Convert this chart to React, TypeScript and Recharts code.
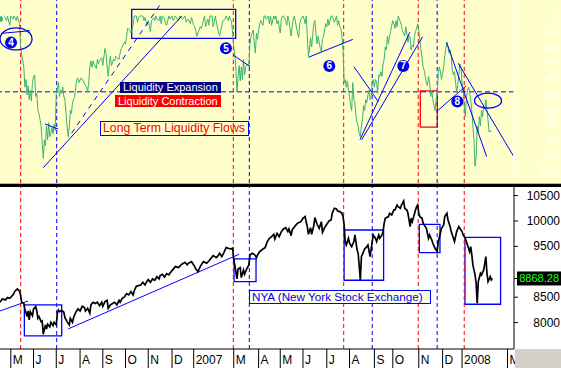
import React from 'react';
import {
  ComposedChart,
  Line,
  XAxis,
  YAxis,
  ReferenceLine,
  ReferenceArea,
  ReferenceDot,
} from 'recharts';

const FONT = 'Arial, "Liberation Sans", Helvetica, sans-serif';

// x values are trading sessions counted from mid-April 2006
const oscDays = [
  0, 2, 4, 6, 7, 9, 10, 12, 13, 15,
  16, 18, 19, 20, 21, 22, 23, 24, 25, 26,
  27, 28, 29, 30, 31, 32, 33, 34, 35, 36,
  38, 39, 40, 41, 42, 43, 44, 45, 46, 47,
  48, 49, 50, 51, 52, 54, 55, 56, 57, 58,
  59, 60, 62, 63, 64, 65, 66, 67, 68, 69,
  70, 71, 72, 73, 75, 77, 79, 80, 81, 82,
  83, 84, 85, 86, 87, 89, 90, 91, 92, 94,
  95, 97, 98, 99, 100, 101, 102, 103, 105, 106,
  107, 108, 110, 111, 112, 113, 115, 116, 117, 118,
  120, 121, 122, 123, 124, 126, 127, 128, 129, 131,
  132, 133, 134, 136, 137, 138, 139, 140, 142, 143,
  144, 145, 147, 148, 149, 150, 152, 153, 154, 155,
  156,
  157, 159, 160, 162, 165, 166, 169, 171, 172, 174,
  176, 177, 179, 180, 182, 183, 185, 186, 188, 189,
  190, 192, 193, 194, 196, 197, 199, 200, 202, 203,
  205, 206, 208, 209, 211, 212, 213, 214, 215, 216,
  217, 218, 219, 220, 221, 222, 223, 224, 225, 226,
  227, 229, 230, 231, 232, 233, 234, 235, 236, 237,
  238, 239, 240, 241, 243, 244, 245, 246, 248, 249,
  250, 251, 253, 254, 255, 256, 257, 259, 260, 261,
  262, 264, 265, 266, 267, 269, 270, 271, 272, 275,
  276, 277, 278, 280, 281, 282, 283, 285, 286, 287,
  288, 290, 291, 292, 293, 294, 296, 297, 298, 299,
  301, 302, 303, 304, 306, 307, 308, 309, 311, 312,
  313,
  314, 315, 316, 317, 318, 319, 320, 321, 322, 323,
  324, 325, 326, 327, 328, 329, 330, 331, 332, 333,
  334, 335, 336, 337, 338, 339, 340, 341, 342, 343,
  344, 345, 346, 347, 348, 349, 350, 351, 352, 353,
  354, 355, 356, 357, 358, 359, 360, 361, 362, 363,
  364, 365, 366, 367, 368, 370, 371, 372, 373, 374,
  375, 376, 377, 378, 379, 380, 381, 382, 383, 384,
  385, 386, 387, 388, 389, 390, 391, 392, 393, 394,
  395, 396, 397, 398, 399, 400, 401, 402, 403, 404,
  405, 406, 407, 408, 409, 410, 411, 412, 413, 414,
  415, 416, 417, 418, 419, 420, 421, 422, 423, 424,
  425, 426, 427, 428, 429, 430, 431, 432, 433, 434,
  435, 436, 437, 438, 439, 440, 441, 442, 443, 444,
  445, 446, 447, 448, 449, 450, 451, 452, 453, 454,
];

const oscValues = [
  -2, 0, 0, -3, 0, -6, 0, -2, 0, -3,
  0, -5, -19, -25, -29, -33, -46, -41, -51, -45,
  -54, -48, -55, -43, -39, -38, -52, -50, -61, -63,
  -71, -82, -92, -80, -84, -71, -80, -69, -78, -76,
  -72, -76, -70, -74, -50, -43, -52, -48, -50, -46,
  -52, -54, -71, -78, -72, -61, -63, -56, -54, -52,
  -46, -41, -40, -43, -40, -42, -45, -46, -49, -43,
  -33, -29, -33, -29, -31, -34, -28, -31, -29, -27,
  -32, -21, -24, -33, -39, -31, -26, -32, -28, -29,
  -26, -27, -28, -24, -21, -20, -17, -18, -13, -8,
  -9, -11, -9, -6, 0, 0, -4, -1, 0, 0,
  0, -3, -1, -6, -3, -6, -10, -3, -1, -3,
  0, -2, -3, 0, -5, 0, -2, -5, -6, -3,
  0,
  -2, 0, -3, 0, -3, 0, -2, 0, -4, -2,
  -5, -1, -6, -7, -13, -11, -7, -8, -3, 0,
  -7, -2, -6, 0, 0, -7, 0, -4, -11, -13,
  -6, -3, -2, 0, -3, 0, -2, -4, -11, -20,
  -25, -35, -49, -39, -32, -42, -33, -41, -28, -38,
  -33, -31, -32, -18, -13, -11, -9, -18, -24, -11,
  -15, -9, -5, -3, -6, 0, 0, -2, 0, -5,
  0, -6, 0, -2, 0, -5, -3, -11, -2, 0,
  0, -3, -6, 0, -3, -13, -7, -2, 0, -11,
  -14, -5, -2, 0, -2, -5, 0, -26, -22, -14,
  -20, -5, -3, -11, -18, -13, -21, -23, -15, -13,
  -5, -7, -2, -6, 0, 0, -2, -4, 0, -6,
  -3,
  -7, -8, -13, -22, -43, -41, -46, -42, -48, -52,
  -58, -61, -43, -54, -56, -65, -69, -71, -76, -78,
  -71, -67, -58, -61, -54, -56, -51, -48, -54, -52,
  -43, -41, -46, -41, -43, -50, -38, -39, -36, -39,
  -31, -28, -20, -22, -13, -18, -13, -10, -6, -3,
  -5, -8, -3, -7, 0, -4, -6, -10, -11, -13,
  -7, -11, -17, -13, -14, -22, -19, -20, -13, -10,
  -8, -5, -9, -15, -22, -27, -33, -35, -39, -43,
  -45, -39, -43, -52, -48, -54, -58, -61, -54, -51,
  -37, -33, -36, -41, -37, -33, -26, -21, -17, -20,
  -24, -22, -26, -35, -38, -36, -43, -49, -45, -38,
  -31, -33, -43, -48, -58, -65, -54, -48, -46, -49,
  -54, -61, -71, -80, -97, -91, -71, -76, -65, -71,
  -61, -65, -58, -60, -54, -61, -67, -75, -74, -75,
];

const nyaDays = [
  0, 2, 5, 7, 9, 12, 14, 16, 18, 19,
  20, 22, 23, 25, 26, 27, 28, 30, 31, 33,
  34, 35, 36, 38, 39, 40, 42, 43, 44, 46,
  47, 49, 50, 52, 53, 54, 55, 57, 59, 60,
  62, 64, 65, 67, 68, 70, 72, 74, 76, 78,
  79, 81, 83, 84, 86, 88, 90, 92, 94, 95,
  97, 99, 100, 102, 104, 106, 108, 110, 111, 113,
  115, 117, 119, 121, 123, 124, 126, 128, 130, 132,
  134, 136, 137, 139, 141, 143, 145, 147, 148, 150,
  152, 154, 156,
  157, 162, 165, 168, 171, 173, 174, 177, 179, 181,
  183, 185, 188, 191, 193, 197, 200, 202, 203, 205,
  207, 209, 213, 215, 216, 217, 219, 220, 222, 223,
  225, 226, 228, 230, 231, 233, 235, 237, 238, 240,
  243, 245, 247, 249, 251, 253, 254, 256, 258, 260,
  262, 264, 266, 267, 269, 270, 273, 275, 278, 280,
  282, 283, 284, 285, 287, 288, 290, 291, 293, 295,
  297, 298, 300, 302, 304, 306, 307, 309, 311, 312,
  314, 316, 317, 318, 319, 320, 322, 323, 325, 327,
  328, 330, 331, 333, 334, 336, 337, 339, 340, 342,
  344, 345, 347, 348, 350, 351, 353, 354, 355, 356,
  359, 360, 362, 364, 365, 367, 368, 370, 371, 373,
  374, 376, 377, 379, 380, 381, 384, 385, 386, 387,
  388, 390, 391, 393, 394, 396, 397, 399, 400, 402,
  404, 405, 407, 408, 410, 411, 413, 414, 416, 417,
  419, 420, 422, 424, 425, 427, 428, 430, 431, 433,
  434, 435, 436, 437, 439, 440, 441, 442, 444, 445,
  447, 448, 449, 450, 451, 453, 454, 455,
];

const nyaValues = [
  8400, 8465, 8446, 8492, 8479, 8544, 8623, 8662, 8623, 8544,
  8400, 8380, 8269, 8118, 8229, 8052, 8216, 8137, 8269, 8315,
  8229, 8085, 8118, 8019, 8033, 7770, 7954, 7875, 7967, 7914,
  8006, 7941, 8006, 7954, 8183, 8249, 8216, 8242, 8203, 8098,
  8019, 7954, 8085, 8006, 8098, 8203, 8269, 8229, 8321, 8295,
  8229, 8282, 8183, 8347, 8400, 8374, 8400, 8334, 8400, 8321,
  8413, 8439, 8282, 8347, 8374, 8400, 8347, 8439, 8400, 8479,
  8505, 8570, 8544, 8610, 8544, 8623, 8715, 8728, 8741, 8793,
  8741, 8820, 8846, 8793, 8859, 8833, 8905, 8859, 8925, 8951,
  8898, 8964, 8938,
  8971, 9102, 9082, 9148, 9187, 9135, 9167, 9200, 9135, 9056,
  9003, 9102, 9200, 9167, 9213, 9318, 9279, 9331, 9364, 9299,
  9384, 9476, 9449, 9463, 9233, 9135, 8859, 9056, 9082, 8885,
  9036, 8951, 9056, 9135, 9331, 9364, 9344, 9279, 9331, 9397,
  9449, 9476, 9594, 9659, 9692, 9738, 9646, 9758, 9692, 9791,
  9843, 9869, 9791, 9843, 9712, 9823, 9909, 9955, 9987, 10053,
  10086, 9974, 9889, 9738, 9869, 9738, 9909, 10066, 9935, 9856,
  9987, 9777, 9869, 9935, 10000, 10020, 10151, 10250, 10237, 10197,
  10184, 10151, 10086, 9922, 9594, 9528, 9659, 9561, 9495, 9594,
  9725, 9430, 9364, 8839, 9299, 9397, 9449, 9495, 9528, 9299,
  9594, 9725, 9659, 9594, 9725, 9659, 9725, 9791, 9955, 10053,
  10086, 10151, 10119, 10217, 10217, 10315, 10283, 10250, 10315, 10394,
  10250, 10217, 10151, 9889, 10053, 9987, 10217, 10283, 10315, 10151,
  10086, 10053, 9955, 9889, 9856, 9659, 9725, 9627, 9561, 9463,
  9397, 9594, 9758, 9856, 9922, 10086, 10151, 10020, 9889, 9791,
  9659, 9594, 9791, 9889, 9856, 9791, 9725, 9659, 9594, 9463,
  9397, 9495, 9331, 9135, 8938, 8774, 8380, 8807, 8971, 8938,
  9036, 9167, 9299, 8971, 8807, 8905, 8839, 8868,
];

// month starts (session index) and their labels
const monthTickDays = [10, 31, 52, 74, 95, 116, 137, 159, 179, 216, 239, 259, 280, 302, 323, 346, 363, 387, 409, 427, 469];
const monthLabels = ['M', 'J', 'J', 'A', 'S', 'O', 'N', 'D', '2007', 'M', 'A', 'M', 'J', 'J', 'A', 'S', 'O', 'N', 'D', '2008', 'M'];

const oscTicks = [0, -10, -20, -30, -40, -50, -60, -70, -80, -90, -100];
const nyaTicks = [8000, 8500, 9500, 10000, 10500];
const nyaLast = 8868.28;

// cycle turning points
const contractionDays = [19.1, 215.6, 317.6, 386.5, 429];
const expansionDays = [52.4, 230.4, 344, 404];
const liquidityLevel = -49;

// hand-drawn annotations, [x1, y1, x2, y2]
const oscTrendLines = [
  [40, -98, 168, 0],
  [41.6, -69.7, 53.6, -73.1],
  [1.5, -11.2, 27.7, -9.5],
  [215.6, -25.2, 231, -32.7],
  [285, -26.7, 326, -15.1],
  [327, -32.7, 349.6, -55.3],
  [332.6, -80, 378.8, -10.5],
  [334.2, -80, 390.6, -13.3],
  [403.5, -61.7, 430.6, -45.2],
  [412.7, -17, 449.7, -90.8],
  [423.5, -30.5, 474.3, -90.3],
];
const oscDashedTrend = [66.2, -75.7, 147.8, 7.1];
const oscBlueBoxes = [[121.7, 217.8, 4.3, -14.4]];
const oscRedBoxes = [[388.4, 404.1, -48.4, -71.8]];
const cycleMarkers = [
  { label: '4', day: 10.2, value: -17.2 },
  { label: '5', day: 208.8, value: -20.9 },
  { label: '6', day: 304.3, value: -32.3 },
  { label: '7', day: 372.7, value: -32.3 },
  { label: '8', day: 422.6, value: -55.3 },
];
const oscEllipses = [
  { day: 14.8, value: -14.8 },
  { day: 451, value: -54.7 },
];
const ellipseRadii = [[16, 11], [13.5, 7.5]];

const nyaTrendLines = [
  [0, 8229, 26, 8426],
  [63, 7875, 221, 9345],
];
const nyaBoxes = [
  [22.5, 57, 8347, 7737],
  [216.3, 236.6, 9253, 8807],
  [318, 354.5, 9823, 8833],
  [387.5, 406.6, 9935, 9377],
  [429.7, 462.6, 9679, 8361],
];

const oscData = oscDays.map((d, i) => ({ day: d, v: oscValues[i] }));
const nyaData = nyaDays.map((d, i) => ({ day: d, v: nyaValues[i] }));

const BLUE = '#0000ff';
const RED = '#ff0000';

const OscTick = (props: any) => (
  <text x={559} y={props.y + 4} textAnchor="end" fontSize={11} fill="#ffffff" fontFamily={FONT}>
    {props.payload.value}
  </text>
);

const NyaTick = (props: any) => {
  const v = props.payload.value;
  if (v === nyaLast) {
    return (
      <g>
        <rect x={517} y={props.y - 7} width={44} height={14} fill="#000" />
        <text x={559} y={props.y + 4} textAnchor="end" fontSize={11} fill="#22ff22" fontFamily={FONT}>
          {nyaLast.toFixed(2)}
        </text>
      </g>
    );
  }
  return (
    <text x={560} y={props.y + 4} textAnchor="end" fontSize={12} fill="#000" fontFamily={FONT}>
      {v}
    </text>
  );
};

const MonthTick = (props: any) => {
  const i = monthTickDays.indexOf(props.payload.value);
  return (
    <g>
      <line x1={props.x} x2={props.x} y1={props.y} y2={props.y + 19} stroke="#000" />
      <text x={props.x + 2} y={props.y + 15} fontSize={12} fill="#000" fontFamily={FONT}>
        {monthLabels[i]}
      </text>
    </g>
  );
};

const markerShape = (label: string) => (p: any) => (
  <g>
    <circle cx={p.cx} cy={p.cy} r={6} fill="#0000ee" />
    <text x={p.cx} y={p.cy + 3.5} textAnchor="middle" fontSize={10} fontWeight="bold" fill="#fff" fontFamily={FONT}>
      {label}
    </text>
  </g>
);

const ellipseShape = (i: number) => (p: any) => (
  <ellipse cx={p.cx} cy={p.cy} rx={ellipseRadii[i][0]} ry={ellipseRadii[i][1]} fill="none" stroke={BLUE} strokeWidth={1.3} />
);

export default function App() {
  return (
    <div style={{ position: 'absolute', left: 0, top: 0, width: 561, height: 368, background: '#fff', overflow: 'hidden', fontFamily: FONT }}>
      {/* upper panel: liquidity oscillator */}
      <div style={{ position: 'absolute', left: 0, top: 0, width: 561, height: 183, background: '#ffffcc' }}>
        <ComposedChart width={561} height={183} data={oscData} margin={{ top: 0, right: 0, bottom: 0, left: 0 }}>
          <XAxis dataKey="day" type="number" domain={[0, 475]} hide allowDataOverflow />
          <YAxis
            orientation="right"
            width={47}
            type="number"
            domain={[-107.9, 10.34]}
            ticks={oscTicks}
            interval={0}
            allowDataOverflow
            axisLine={{ stroke: '#fff' }}
            tickLine={{ stroke: '#fff' }}
            tickSize={4}
            tick={(p: any) => <OscTick {...p} />}
          />
          <ReferenceLine y={liquidityLevel} stroke={BLUE} strokeDasharray="5 3" />
          {contractionDays.map((d) => (
            <ReferenceLine key={'rc' + d} x={d} stroke={RED} strokeDasharray="4 3" />
          ))}
          {expansionDays.map((d) => (
            <ReferenceLine key={'bc' + d} x={d} stroke={BLUE} strokeDasharray="4 3" />
          ))}
          <Line type="linear" dataKey="v" stroke="#3cb371" strokeWidth={1} dot={false} isAnimationActive={false} />
          {oscTrendLines.map((s, i) => (
            <ReferenceLine key={'ot' + i} segment={[{ x: s[0], y: s[1] }, { x: s[2], y: s[3] }]} stroke={BLUE} strokeWidth={1} ifOverflow="visible" />
          ))}
          <ReferenceLine
            segment={[{ x: oscDashedTrend[0], y: oscDashedTrend[1] }, { x: oscDashedTrend[2], y: oscDashedTrend[3] }]}
            stroke={BLUE}
            strokeDasharray="5 5"
            ifOverflow="visible"
          />
          {oscBlueBoxes.map((b, i) => (
            <ReferenceArea key={'ob' + i} x1={b[0]} x2={b[1]} y1={b[2]} y2={b[3]} fill="none" stroke={BLUE} strokeWidth={1.3} ifOverflow="visible" />
          ))}
          {oscRedBoxes.map((b, i) => (
            <ReferenceArea key={'or' + i} x1={b[0]} x2={b[1]} y1={b[2]} y2={b[3]} fill="none" stroke={RED} strokeWidth={1.3} ifOverflow="visible" />
          ))}
          {oscEllipses.map((e, i) => (
            <ReferenceDot key={'el' + i} x={e.day} y={e.value} r={1} ifOverflow="visible" shape={ellipseShape(i)} />
          ))}
          {cycleMarkers.map((m) => (
            <ReferenceDot key={'m' + m.label} x={m.day} y={m.value} r={6} ifOverflow="visible" shape={markerShape(m.label)} />
          ))}
        </ComposedChart>
      </div>
      <div style={{ position: 'absolute', left: 0, top: 183, width: 561, height: 1, background: '#b0b0b0' }} />
      <div style={{ position: 'absolute', left: 0, top: 184, width: 561, height: 3, background: '#000' }} />

      {/* lower panel: NYSE composite */}
      <div style={{ position: 'absolute', left: 0, top: 187, width: 561, height: 181 }}>
        <ComposedChart width={561} height={181} data={nyaData} margin={{ top: 0, right: 0, bottom: 0, left: 0 }}>
          <XAxis
            dataKey="day"
            type="number"
            domain={[0, 475]}
            ticks={monthTickDays}
            interval={0}
            height={19}
            tickSize={0}
            tickMargin={0}
            tickLine={false}
            axisLine={{ stroke: '#000' }}
            allowDataOverflow
            tick={(p: any) => <MonthTick {...p} />}
          />
          <YAxis
            orientation="right"
            width={47}
            type="number"
            domain={[7480, 10669]}
            ticks={[...nyaTicks, nyaLast]}
            interval={0}
            allowDataOverflow
            axisLine={{ stroke: '#000' }}
            tickLine={{ stroke: '#000' }}
            tickSize={4}
            tick={(p: any) => <NyaTick {...p} />}
          />
          {contractionDays.map((d) => (
            <ReferenceLine key={'rc' + d} x={d} stroke={RED} strokeDasharray="4 3" />
          ))}
          {expansionDays.map((d) => (
            <ReferenceLine key={'bc' + d} x={d} stroke={BLUE} strokeDasharray="4 3" />
          ))}
          {nyaTrendLines.map((s, i) => (
            <ReferenceLine key={'nt' + i} segment={[{ x: s[0], y: s[1] }, { x: s[2], y: s[3] }]} stroke={BLUE} strokeWidth={1} ifOverflow="visible" />
          ))}
          <Line type="linear" dataKey="v" stroke="#000" strokeWidth={1.7} dot={false} isAnimationActive={false} />
          {nyaBoxes.map((b, i) => (
            <ReferenceArea key={'nb' + i} x1={b[0]} x2={b[1]} y1={b[2]} y2={b[3]} fill="none" stroke={BLUE} strokeWidth={1.3} ifOverflow="visible" />
          ))}
        </ComposedChart>
      </div>

      {/* text annotations */}
      <div style={{ position: 'absolute', left: 120, top: 82, width: 98, height: 11, paddingLeft: 3, background: '#000080', color: '#fff', fontSize: 11, lineHeight: '11px', whiteSpace: 'nowrap' }}>
        Liquidity Expansion
      </div>
      <div style={{ position: 'absolute', left: 115, top: 95, width: 103, height: 12, paddingLeft: 3, background: RED, color: '#fff', fontSize: 11, lineHeight: '12px', whiteSpace: 'nowrap' }}>
        Liquidity Contraction
      </div>
      <div style={{ position: 'absolute', left: 100, top: 121, width: 145, height: 13, paddingLeft: 2, border: '1px solid #0000ff', color: RED, fontSize: 12.3, lineHeight: '13px', whiteSpace: 'nowrap' }}>
        Long Term Liquidity Flows
      </div>
      <div style={{ position: 'absolute', left: 249, top: 290, width: 178, height: 12, paddingLeft: 2, border: '1px solid #0000ff', background: '#ffffe1', color: BLUE, fontSize: 11.7, lineHeight: '12px', whiteSpace: 'nowrap' }}>
        NYA (New York Stock Exchange)
      </div>
      <div style={{ position: 'absolute', left: 515, top: 349, width: 46, height: 19, background: '#d4d0c8' }} />
    </div>
  );
}
